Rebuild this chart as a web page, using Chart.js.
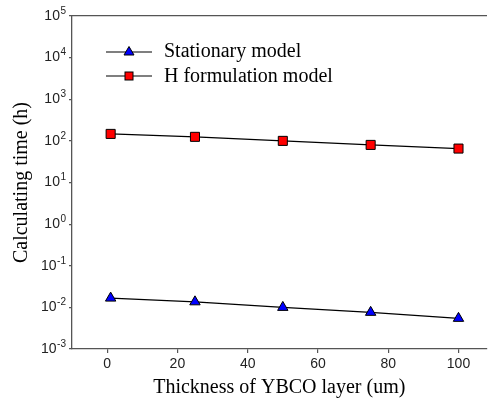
<!DOCTYPE html>
<html>
<head>
<meta charset="utf-8">
<script src="https://cdn.jsdelivr.net/npm/chart.js@4/dist/chart.umd.min.js"></script>
<style>
    body { margin: 0; background: #fff; }
    .wrap { position: relative; width: 494px; height: 404px; }
    .legend { position: absolute; left: 106px; top: 38px; font-family: "Liberation Serif", "Times New Roman", serif; font-size: 20px; color: #000; }
    .legend .row { display: flex; align-items: center; height: 25px; }
    .legend svg { margin-right: 12px; }
</style>
</head>
<body>
<div class="wrap">
    <canvas id="timeChart" width="494" height="404"></canvas>
    <div class="legend">
        <div class="row">
            <svg width="46" height="14"><line x1="0" y1="8" x2="46" y2="8" stroke="#000" stroke-width="1.2"/><polygon points="23,2.5 28,11 18,11" fill="#0000ff" stroke="#000" stroke-width="1"/></svg>
            <span>Stationary model</span>
        </div>
        <div class="row">
            <svg width="46" height="14"><line x1="0" y1="7" x2="46" y2="7" stroke="#000" stroke-width="1.2"/><rect x="19" y="3" width="8" height="8" fill="#ff0000" stroke="#000" stroke-width="1"/></svg>
            <span>H formulation model</span>
        </div>
    </div>
</div>
<script>
// 데이터
const thickness = [1, 25, 50, 75, 100];
const stationaryTime = [0.0167, 0.0136, 0.0100, 0.0076, 0.00545];
const hFormulationTime = [147, 125, 100, 80, 65.3];
const xTickValues = [0, 20, 40, 60, 80, 100];
const yExponents = [-3, -2, -1, 0, 1, 2, 3, 4, 5];

const axisColor = '#555';
const tickFont = 'Liberation Sans, Arial, sans-serif';

function toPoints(ys) {
    return thickness.map((x, i) => ({ x: x, y: ys[i] }));
}

// y축 눈금 라벨 (10의 거듭제곱, 위첨자)
const powerLabels = {
    id: 'powerLabels',
    afterDraw(chart) {
        const scale = chart.scales.y;
        const c = chart.ctx;
        c.save();
        c.fillStyle = '#222';
        c.textBaseline = 'middle';
        yExponents.forEach(e => {
            const y = scale.getPixelForValue(Math.pow(10, e));
            const right = scale.right - 6;
            const exp = String(e);
            c.font = '10px ' + tickFont;
            const expW = c.measureText(exp).width;
            c.textAlign = 'left';
            c.fillText(exp, right - expW, y - 5);
            c.font = '14px ' + tickFont;
            c.textAlign = 'right';
            c.fillText('10', right - expW - 0.5, y);
        });
        c.restore();
    }
};

document.addEventListener('DOMContentLoaded', function() {
    const ctx = document.getElementById('timeChart');
    new Chart(ctx, {
        type: 'line',
        data: {
            datasets: [{
                label: 'Stationary model',
                data: toPoints(stationaryTime),
                borderColor: '#000',
                borderWidth: 1.2,
                pointStyle: 'triangle',
                pointRadius: 6,
                pointBackgroundColor: '#0000ff',
                pointBorderColor: '#000',
                pointBorderWidth: 1
            }, {
                label: 'H formulation model',
                data: toPoints(hFormulationTime),
                borderColor: '#000',
                borderWidth: 1.2,
                pointStyle: 'rect',
                pointRadius: 6.4,
                pointBackgroundColor: '#ff0000',
                pointBorderColor: '#000',
                pointBorderWidth: 1
            }]
        },
        options: {
            responsive: false,
            animation: false,
            layout: { padding: { left: 5, right: 1, top: 0, bottom: 0 } },
            plugins: { legend: { display: false }, tooltip: { enabled: false } },
            scales: {
                x: {
                    type: 'linear',
                    position: 'bottom',
                    min: -10,
                    max: 108,
                    afterBuildTicks: scale => { scale.ticks = xTickValues.map(v => ({ value: v })); },
                    afterFit: scale => { scale.height = 55; },
                    ticks: { color: '#222', font: { family: tickFont, size: 14 }, padding: 3, maxRotation: 0 },
                    grid: { drawOnChartArea: false, drawTicks: true, tickLength: 4, color: axisColor, lineWidth: 1.2 },
                    border: { display: true, color: axisColor, width: 1.3 },
                    title: {
                        display: true,
                        text: 'Thickness of YBCO layer (um)',
                        color: '#000',
                        font: { family: 'Liberation Serif, Times New Roman', size: 20 },
                        padding: { top: 0, bottom: 4 }
                    }
                },
                x2: {
                    type: 'linear',
                    position: 'top',
                    min: -10,
                    max: 108,
                    afterFit: scale => { scale.height = 16; },
                    ticks: { display: false },
                    grid: { display: false },
                    border: { display: true, color: axisColor, width: 1.3 }
                },
                y: {
                    type: 'logarithmic',
                    min: 1e-3,
                    max: 1e5,
                    afterBuildTicks: scale => { scale.ticks = yExponents.map(e => ({ value: Math.pow(10, e) })); },
                    afterFit: scale => { scale.width = 67; },
                    ticks: { display: false },
                    grid: { drawOnChartArea: false, drawTicks: true, tickLength: 3, color: axisColor, lineWidth: 1.2 },
                    border: { display: true, color: axisColor, width: 1.3 },
                    title: {
                        display: true,
                        text: 'Calculating time (h)',
                        color: '#000',
                        font: { family: 'Liberation Serif, Times New Roman', size: 20 },
                        padding: { top: 5, bottom: 0 }
                    }
                }
            }
        },
        plugins: [powerLabels]
    });
});
</script>
</body>
</html>
